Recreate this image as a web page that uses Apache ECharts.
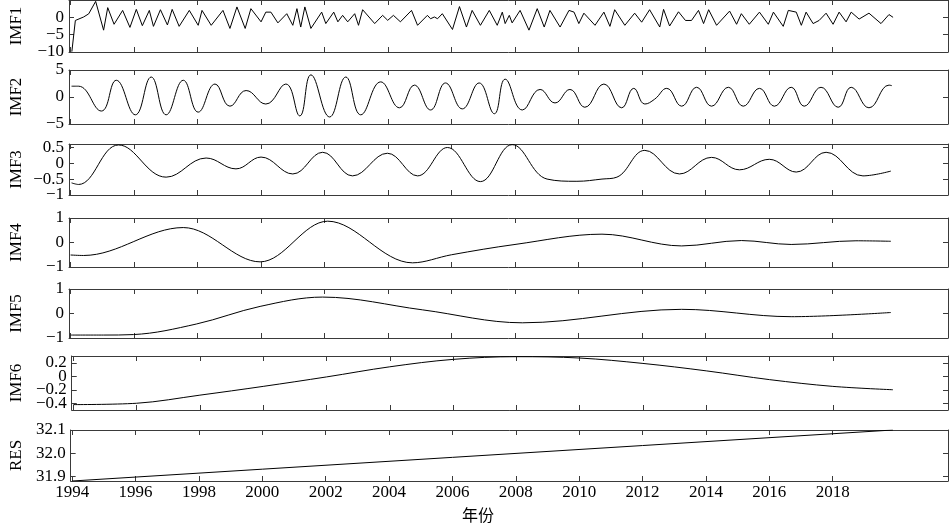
<!DOCTYPE html>
<html>
<head>
<meta charset="utf-8">
<script src="https://cdn.jsdelivr.net/npm/echarts@6/dist/echarts.min.js"></script>
<style>html,body{margin:0;padding:0;background:#fff}#c{width:950px;height:528px}</style>
</head>
<body>
<div id="c"></div>
<script>
const xTicks = [1994,1996,1998,2000,2002,2004,2006,2008,2010,2012,2014,2016,2018];

const imf1 = [[1994.04,-9.9],[1994.15,-0.9],[1994.41,0.1],[1994.57,1.0],[1994.79,4.6],[1995.04,-3.7],[1995.17,2.8],[1995.37,-2.0],[1995.64,2.0],[1995.87,-2.9],[1996.07,2.3],[1996.26,-2.4],[1996.48,2.0],[1996.61,-2.6],[1996.83,2.2],[1997.05,-2.2],[1997.20,2.3],[1997.42,-2.6],[1997.74,2.0],[1998.02,-2.3],[1998.14,2.0],[1998.43,-2.3],[1998.80,2.0],[1999.02,-3.2],[1999.24,3.0],[1999.50,-3.2],[1999.68,2.5],[2000.00,-1.3],[2000.15,1.5],[2000.31,1.5],[2000.53,-1.6],[2000.81,1.05],[2001.00,-2.3],[2001.13,2.5],[2001.25,-2.8],[2001.38,3.0],[2001.57,-3.2],[2001.91,1.5],[2002.04,-1.8],[2002.29,1.5],[2002.42,-1.3],[2002.57,0.57],[2002.73,-1.3],[2002.95,1.05],[2003.07,-2.3],[2003.20,2.2],[2003.58,-1.8],[2003.83,0.57],[2003.99,-0.86],[2004.17,0.57],[2004.39,-1.3],[2004.74,2.0],[2004.93,-2.3],[2005.24,0.57],[2005.34,-0.4],[2005.46,0.1],[2005.56,-0.4],[2005.71,1.05],[2006.03,-3.5],[2006.25,3.1],[2006.47,-2.8],[2006.65,2.0],[2006.91,-2.3],[2007.19,2.0],[2007.44,-2.3],[2007.60,1.5],[2007.69,-1.8],[2007.82,0.57],[2007.91,-1.6],[2008.16,2.0],[2008.44,-3.7],[2008.70,2.5],[2008.92,-2.8],[2009.10,2.0],[2009.42,-2.8],[2009.70,2.0],[2009.86,1.5],[2010.01,-1.8],[2010.17,1.2],[2010.52,-2.3],[2010.80,1.5],[2010.99,-2.6],[2011.14,2.2],[2011.46,-2.3],[2011.77,1.2],[2011.99,-1.4],[2012.24,2.2],[2012.56,-2.8],[2012.68,2.3],[2012.87,-2.5],[2013.15,1.6],[2013.37,-0.9],[2013.56,-0.9],[2013.78,2.0],[2013.94,-1.8],[2014.10,2.2],[2014.35,-2.3],[2014.76,1.8],[2014.98,-2.0],[2015.13,1.05],[2015.38,-2.0],[2015.70,1.5],[2015.98,-2.0],[2016.14,1.5],[2016.45,-2.6],[2016.61,2.0],[2016.86,1.5],[2017.02,-2.3],[2017.17,1.5],[2017.39,-1.8],[2017.58,-0.9],[2017.80,1.2],[2018.02,-2.0],[2018.21,1.5],[2018.43,-1.3],[2018.59,1.5],[2018.84,-0.5],[2019.15,1.2],[2019.53,-1.8],[2019.78,0.8],[2019.91,0.0]];

const imf2 = [[1994.03,2.0],[1994.25,2.0],[1994.97,-2.6],[1995.44,3.1],[1996.04,-3.3],[1996.54,3.7],[1997.01,-3.3],[1997.55,3.1],[1998.02,-2.8],[1998.55,2.4],[1999.02,-1.7],[1999.53,1.2],[2000.15,-1.3],[2000.78,2.4],[2001.22,-3.5],[2001.57,4.1],[2002.16,-3.7],[2002.67,3.7],[2003.14,-3.3],[2003.77,2.8],[2004.36,-2.0],[2004.83,2.2],[2005.34,-2.4],[2005.81,2.6],[2006.34,-2.2],[2006.87,2.6],[2007.35,-3.1],[2007.69,3.3],[2008.23,-2.4],[2008.79,1.4],[2009.26,-1.1],[2009.73,1.4],[2010.20,-1.9],[2010.80,2.4],[2011.36,-2.0],[2011.74,1.6],[2012.09,-1.3],[2012.40,-0.4],[2012.78,1.6],[2013.25,-1.7],[2013.72,1.8],[2014.19,-1.7],[2014.72,1.8],[2015.19,-1.7],[2015.70,1.6],[2016.17,-1.7],[2016.70,1.8],[2017.11,-1.7],[2017.64,1.8],[2018.18,-1.9],[2018.59,1.8],[2019.15,-2.0],[2019.78,2.2],[2019.87,2.1]];

const imf3 = [[1994.03,-0.62],[1994.25,-0.67],[1995.51,0.57],[1997.01,-0.44],[1998.27,0.16],[1999.21,-0.18],[2000.00,0.19],[2001.00,-0.34],[2001.94,0.34],[2002.88,-0.40],[2003.98,0.31],[2004.93,-0.40],[2005.87,0.49],[2006.91,-0.58],[2007.91,0.58],[2009.01,-0.50],[2009.95,-0.57],[2010.74,-0.50],[2011.21,-0.44],[2012.09,0.40],[2013.18,-0.34],[2014.19,0.18],[2015.07,-0.21],[2016.01,0.12],[2016.86,-0.28],[2017.80,0.34],[2018.96,-0.40],[2019.84,-0.25]];

const imf4 = [[1994.0,-0.51],[1994.41,-0.53],[1997.55,0.61],[1999.97,-0.79],[2002.10,0.87],[2004.77,-0.83],[2006.0,-0.50],[2008.0,-0.08],[2010.74,0.34],[2013.25,-0.14],[2015.13,0.08],[2016.70,-0.08],[2018.74,0.07],[2019.84,0.05]];

const imf5 = [[1994.0,-0.88],[1995.04,-0.88],[1995.98,-0.86],[1997.96,-0.43],[1999.97,0.29],[2001.94,0.67],[2005.08,0.15],[2008.23,-0.38],[2013.25,0.17],[2016.70,-0.13],[2019.84,0.04]];

const imf6 = [[1994.0,-0.42],[1996.0,-0.40],[1998.0,-0.28],[2000.0,-0.15],[2002.0,-0.01],[2004.0,0.14],[2006.0,0.25],[2008.0,0.29],[2010.0,0.27],[2012.0,0.19],[2014.0,0.08],[2016.0,-0.05],[2018.0,-0.15],[2019.9,-0.20]];

const res = [[1994.0,31.880],[2000.0,31.931],[2006.0,31.982],[2012.0,32.033],[2019.9,32.100]];

const imf1YTicks = [-10,-5,0];
const imf2YTicks = [-5,0,5];
const imf3YTicks = [-1,-0.5,0,0.5];
const imf4YTicks = [-1,0,1];
const imf5YTicks = [-1,0,1];
const imf6YTicks = [-0.4,-0.2,0,0.2];
const resYTicks = [31.9,32.0,32.1];

const panels = [
  {name:'IMF1', data:imf1, min:-10, max:5, ticks:imf1YTicks, top:0, height:52, smooth:false, dec:null},
  {name:'IMF2', data:imf2, min:-5, max:5, ticks:imf2YTicks, top:70, height:54, smooth:0.45, dec:null},
  {name:'IMF3', data:imf3, min:-1, max:0.6, ticks:imf3YTicks, top:144, height:51, smooth:0.4, dec:null},
  {name:'IMF4', data:imf4, min:-1, max:1, ticks:imf4YTicks, top:218, height:49, smooth:0.35, dec:null},
  {name:'IMF5', data:imf5, min:-1, max:1, ticks:imf5YTicks, top:289, height:49, smooth:0.35, dec:null},
  {name:'IMF6', data:imf6, min:-0.5, max:0.3, ticks:imf6YTicks, top:356, height:54, smooth:0.35, dec:null},
  {name:'RES', data:res, min:31.88, max:32.1, ticks:resYTicks, top:430, height:51, smooth:false, dec:1}
];

const axisColor = '#3a3a3a';
const font = '"Liberation Serif", "Times New Roman", serif';
const lineStyle = {color: axisColor, width: 1};
const grid = [], xAxis = [], yAxis = [], series = [];
const X_MIN = 1993.95, X_MAX = 2021.64;

panels.forEach((p, i) => {
  grid.push({left: 66, right: 2, top: p.top, height: p.height, show: false});
  const last = i === panels.length - 1;
  xAxis.push({
    gridIndex: i, type: 'value', min: X_MIN, max: X_MAX, position: 'bottom',
    axisLine: {show: true, onZero: false, lineStyle},
    axisTick: {show: true, inside: true, length: 5, customValues: xTicks, lineStyle},
    axisLabel: {show: last, customValues: xTicks, formatter: v => String(v), hideOverlap: false,
      fontFamily: font, fontSize: 17, color: '#000', margin: 3},
    splitLine: {show: false}
  });
  xAxis.push({
    gridIndex: i, type: 'value', min: X_MIN, max: X_MAX, position: 'top',
    axisLine: {show: true, onZero: false, lineStyle},
    axisTick: {show: true, inside: true, length: 5, customValues: xTicks, lineStyle},
    axisLabel: {show: false},
    splitLine: {show: false}
  });
  const fmt = v => {
    let s = p.dec != null ? Number(v).toFixed(p.dec) : String(Math.round(v * 100) / 100);
    return s.replace('-', '\u2212');
  };
  const labA = p.ticks.filter((_, k) => k % 2 === 0);
  const labB = p.ticks.filter((_, k) => k % 2 === 1);
  const labelBase = {fontFamily: font, fontSize: 17, color: '#000', margin: 5, formatter: fmt,
    hideOverlap: false, showMinLabel: true, showMaxLabel: true};
  yAxis.push({
    gridIndex: i, type: 'value', min: p.min, max: p.max, position: 'left',
    name: p.name, nameLocation: 'middle', nameGap: 44,
    nameTextStyle: {fontFamily: font, fontSize: 17, color: '#000'},
    axisLine: {show: true, onZero: false, lineStyle},
    axisTick: {show: true, inside: true, length: 5, customValues: p.ticks, lineStyle},
    axisLabel: Object.assign({show: true, customValues: labA}, labelBase),
    splitLine: {show: false}
  });
  yAxis.push({
    gridIndex: i, type: 'value', min: p.min, max: p.max, position: 'right',
    axisLine: {show: true, onZero: false, lineStyle},
    axisTick: {show: true, inside: true, length: 5, customValues: p.ticks, lineStyle},
    axisLabel: {show: false},
    splitLine: {show: false}
  });
  yAxis.push({
    gridIndex: i, type: 'value', min: p.min, max: p.max, position: 'left', offset: 0,
    axisLine: {show: false, onZero: false},
    axisTick: {show: false},
    axisLabel: Object.assign({show: labB.length > 0, customValues: labB}, labelBase),
    splitLine: {show: false}
  });
  series.push({
    type: 'line', xAxisIndex: 2 * i, yAxisIndex: 3 * i, data: p.data,
    showSymbol: false, symbol: 'none', smooth: p.smooth,
    lineStyle: {color: '#000', width: 1}, animation: false
  });
});

const chart = echarts.init(document.getElementById('c'), null, {renderer: 'canvas'});
chart.setOption({
  backgroundColor: '#fff',
  animation: false,
  grid, xAxis, yAxis, series,
  graphic: [{
    type: 'text', left: 462, top: 507,
    style: {text: '年份', font: '16px "Noto Sans CJK SC"', fill: '#000'}
  }]
});
</script>
</body>
</html>
